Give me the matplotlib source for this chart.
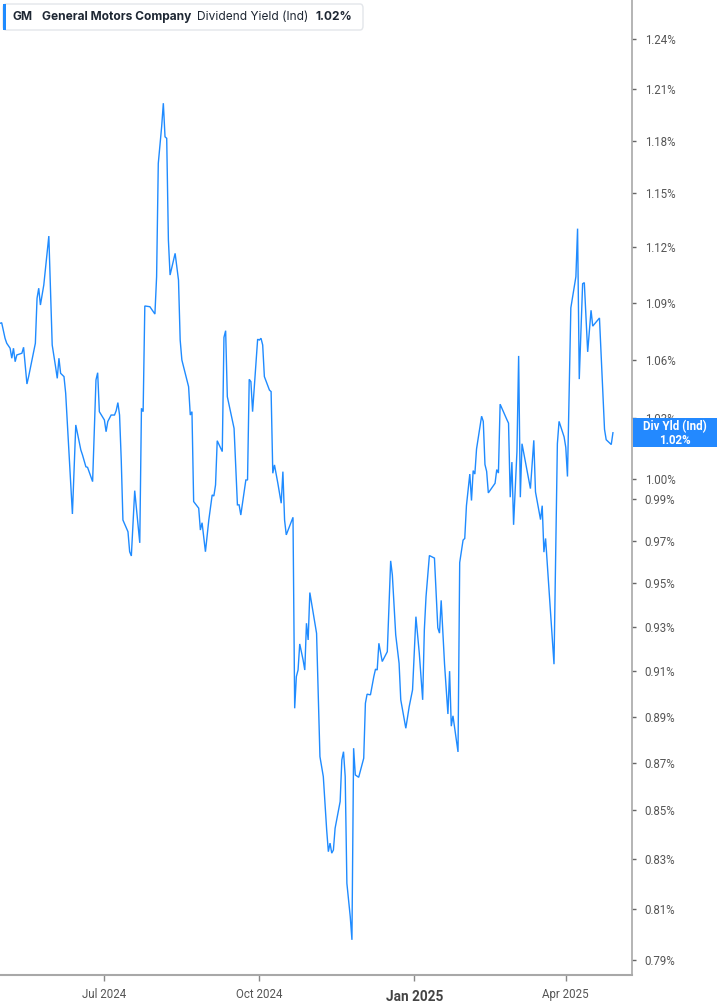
import matplotlib
matplotlib.use("Agg")
import matplotlib.pyplot as plt
import matplotlib.dates as mdates
from matplotlib.patches import Rectangle, FancyBboxPatch
import pandas as pd

# ---------------- data ----------------
dates = [
    "2024-04-30", "2024-05-01", "2024-05-03", "2024-05-04", "2024-05-06", "2024-05-07", "2024-05-08",
    "2024-05-09", "2024-05-10", "2024-05-13", "2024-05-14", "2024-05-16", "2024-05-17", "2024-05-21",
    "2024-05-22", "2024-05-23", "2024-05-24", "2024-05-26", "2024-05-29", "2024-05-31", "2024-06-02",
    "2024-06-03", "2024-06-04", "2024-06-05", "2024-06-07", "2024-06-08", "2024-06-10", "2024-06-12",
    "2024-06-14", "2024-06-17", "2024-06-18", "2024-06-20", "2024-06-21", "2024-06-24", "2024-06-26",
    "2024-06-27", "2024-06-28", "2024-07-01", "2024-07-02", "2024-07-03", "2024-07-05", "2024-07-07",
    "2024-07-08", "2024-07-09", "2024-07-10", "2024-07-11", "2024-07-12", "2024-07-15", "2024-07-16",
    "2024-07-17", "2024-07-19", "2024-07-22", "2024-07-23", "2024-07-24", "2024-07-25", "2024-07-28",
    "2024-07-31", "2024-08-01", "2024-08-02", "2024-08-04", "2024-08-05", "2024-08-06", "2024-08-07",
    "2024-08-08", "2024-08-09", "2024-08-12", "2024-08-14", "2024-08-15", "2024-08-16", "2024-08-19",
    "2024-08-20", "2024-08-21", "2024-08-22", "2024-08-23", "2024-08-26", "2024-08-27", "2024-08-28",
    "2024-08-30", "2024-09-01", "2024-09-03", "2024-09-04", "2024-09-05", "2024-09-06", "2024-09-09",
    "2024-09-10", "2024-09-11", "2024-09-12", "2024-09-16", "2024-09-18", "2024-09-19", "2024-09-20",
    "2024-09-23", "2024-09-24", "2024-09-25", "2024-09-26", "2024-09-27", "2024-09-30", "2024-10-01",
    "2024-10-02", "2024-10-03", "2024-10-04", "2024-10-07", "2024-10-08", "2024-10-09", "2024-10-10",
    "2024-10-12", "2024-10-14", "2024-10-15", "2024-10-16", "2024-10-17", "2024-10-21", "2024-10-22",
    "2024-10-23", "2024-10-24", "2024-10-25", "2024-10-27", "2024-10-28", "2024-10-29", "2024-10-30",
    "2024-10-31", "2024-11-02", "2024-11-04", "2024-11-06", "2024-11-08", "2024-11-10", "2024-11-11",
    "2024-11-12", "2024-11-13", "2024-11-14", "2024-11-15", "2024-11-18", "2024-11-19", "2024-11-20",
    "2024-11-21", "2024-11-22", "2024-11-24", "2024-11-25", "2024-11-26", "2024-11-27", "2024-11-29",
    "2024-12-02", "2024-12-03", "2024-12-04", "2024-12-06", "2024-12-08", "2024-12-09", "2024-12-10",
    "2024-12-11", "2024-12-13", "2024-12-16", "2024-12-18", "2024-12-19", "2024-12-21", "2024-12-23",
    "2024-12-24", "2024-12-27", "2024-12-29", "2024-12-31", "2025-01-02", "2025-01-04", "2025-01-06",
    "2025-01-07", "2025-01-08", "2025-01-10", "2025-01-13", "2025-01-15", "2025-01-16", "2025-01-17",
    "2025-01-19", "2025-01-21", "2025-01-22", "2025-01-23", "2025-01-24", "2025-01-27", "2025-01-28",
    "2025-01-30", "2025-01-31", "2025-02-01", "2025-02-03", "2025-02-04", "2025-02-05", "2025-02-06",
    "2025-02-07", "2025-02-10", "2025-02-11", "2025-02-12", "2025-02-13", "2025-02-14", "2025-02-18",
    "2025-02-19", "2025-02-20", "2025-02-21", "2025-02-25", "2025-02-26", "2025-02-27", "2025-02-28",
    "2025-03-01", "2025-03-03", "2025-03-04", "2025-03-05", "2025-03-06", "2025-03-11", "2025-03-13",
    "2025-03-14", "2025-03-17", "2025-03-18", "2025-03-19", "2025-03-20", "2025-03-25", "2025-03-27",
    "2025-03-28", "2025-03-31", "2025-04-01", "2025-04-02", "2025-04-04", "2025-04-07", "2025-04-08",
    "2025-04-09", "2025-04-11", "2025-04-12", "2025-04-14", "2025-04-16", "2025-04-17", "2025-04-21",
    "2025-04-24", "2025-04-25", "2025-04-28", "2025-04-29",
]

div_yield = [
    1.0790, 1.0793, 1.0711, 1.0685, 1.0659, 1.0607, 1.0659, 1.0589, 1.0624, 1.0633,
    1.0664, 1.0474, 1.0512, 1.0685, 1.0923, 1.0977, 1.0887, 1.0994, 1.1261, 1.0676,
    1.0563, 1.0503, 1.0607, 1.0529, 1.0512, 1.0427, 1.0125, 0.9828, 1.0266, 1.0141,
    1.0116, 1.0058, 1.0055, 0.9985, 1.0495, 1.0532, 1.0333, 1.0291, 1.0232, 1.0283,
    1.0316, 1.0316, 1.0338, 1.0379, 1.0316, 1.0092, 0.9799, 0.9743, 0.9648, 0.9628,
    0.9941, 0.9690, 1.0350, 1.0333, 1.0882, 1.0878, 1.0839, 1.1039, 1.1669, 1.1881,
    1.2018, 1.1822, 1.1813, 1.1239, 1.1048, 1.1166, 1.1021, 1.0702, 1.0598, 1.0495,
    1.0460, 1.0316, 1.0333, 0.9888, 0.9856, 0.9751, 0.9786, 0.9648, 0.9799, 0.9920,
    0.9915, 0.9969, 1.0187, 1.0133, 1.0716, 1.0751, 1.0409, 1.0249, 0.9872, 0.9872,
    0.9823, 0.9993, 0.9993, 1.0498, 1.0486, 1.0333, 1.0706, 1.0702, 1.0711, 1.0676,
    1.0512, 1.0443, 1.0435, 1.0026, 1.0067, 0.9977, 0.9880, 1.0034, 0.9799, 0.9728,
    0.9812, 0.8936, 0.9076, 0.9105, 0.9222, 0.9150, 0.9105, 0.9316, 0.9240, 0.9457,
    0.9362, 0.9270, 0.8727, 0.8642, 0.8419, 0.8330, 0.8365, 0.8324, 0.8337, 0.8426,
    0.8537, 0.8713, 0.8748, 0.8642, 0.8202, 0.8069, 0.7978, 0.8763, 0.8649, 0.8639,
    0.8720, 0.8958, 0.8998, 0.8995, 0.9076, 0.9109, 0.9105, 0.9225, 0.9143, 0.9187,
    0.9605, 0.9539, 0.9263, 0.9135, 0.8973, 0.8849, 0.8943, 0.9017, 0.9346, 0.9180,
    0.8973, 0.9286, 0.9438, 0.9630, 0.9618, 0.9295, 0.9271, 0.9421, 0.9131, 0.8911,
    0.9100, 0.8858, 0.8903, 0.8747, 0.9597, 0.9703, 0.9711, 0.9868, 1.0022, 0.9893,
    1.0039, 1.0022, 1.0146, 1.0310, 1.0284, 1.0069, 1.0035, 0.9930, 0.9977, 1.0044,
    1.0027, 1.0371, 1.0293, 1.0275, 0.9909, 1.0081, 0.9776, 1.0134, 1.0619, 0.9909,
    1.0172, 0.9951, 1.0189, 0.9935, 0.9801, 0.9868, 0.9646, 0.9711, 0.9131, 1.0172,
    1.0284, 1.0206, 1.0154, 1.0010, 1.0872, 1.1039, 1.1302, 1.0499, 1.1001, 1.1007,
    1.0640, 1.0859, 1.0775, 1.0818, 1.0244, 1.0192, 1.0168, 1.0227,
]

y_ticks = [1.24, 1.21, 1.18, 1.15, 1.12, 1.09, 1.06, 1.03, 1.00, 0.99,
           0.97, 0.95, 0.93, 0.91, 0.89, 0.87, 0.85, 0.83, 0.81, 0.79]
x_tick_dates = ["2024-07-01", "2024-10-01", "2025-01-01", "2025-04-01"]
x_tick_labels = ["Jul 2024", "Oct 2024", "Jan 2025", "Apr 2025"]

ticker = "GM"
company = "General Motors Company"
metric = "Dividend Yield (Ind)"
badge_title = "Div Yld (Ind)"

# ---------------- figure ----------------
W, H = 717, 1005
fig = plt.figure(figsize=(W / 100, H / 100), dpi=100)
fig.patch.set_facecolor("white")

ax = fig.add_axes([0, 30 / H, 632.3 / W, 975 / H])
ax.set_facecolor("white")

x = pd.to_datetime(dates)
line_color = "#1f8bff"
ax.plot(x, div_yield, color=line_color, lw=1.0, solid_joinstyle="miter")

ax.set_yscale("log")
ax.set_ylim(0.78418, 1.2641)
ax.set_xlim(pd.Timestamp("2024-04-30"), pd.Timestamp("2025-05-10 12:00"))

ax.yaxis.tick_right()
ax.set_yticks(y_ticks)
ax.set_yticklabels([f"{v:.2f}%" for v in y_ticks])
ax.yaxis.set_minor_locator(matplotlib.ticker.NullLocator())
ax.tick_params(axis="y", which="major", length=3, width=1, color="#666666",
               pad=6, labelsize=8.3, labelcolor="#555555")
for lab in ax.get_yticklabels():
    lab.set_fontfamily("Roboto")

xt = pd.to_datetime(x_tick_dates)
ax.set_xticks(xt)
ax.set_xticklabels(x_tick_labels)
ax.xaxis.set_minor_locator(matplotlib.ticker.NullLocator())
ax.tick_params(axis="x", which="major", length=4, width=1, color="#888888",
               pad=5, labelsize=8.3, labelcolor="#555555")
for lab in ax.get_xticklabels():
    lab.set_fontfamily("Roboto")
    if lab.get_text().startswith("Jan"):
        lab.set_fontweight("bold")
        lab.set_fontsize(9.8)
        lab.set_color("#444444")
        lab.set_y(-0.003)

for s in ("top", "left"):
    ax.spines[s].set_visible(False)
ax.spines["bottom"].set_color("#a8a8a8")
ax.spines["bottom"].set_linewidth(1.5)
ax.spines["right"].set_color("#a8a8a8")
ax.spines["right"].set_linewidth(1.2)

# ---------------- last value badge ----------------
fig.canvas.draw()
last_val = div_yield[-1]
y_px = ax.transData.transform((mdates.date2num(x[-1]), last_val))[1]
bh = 29.4
badge = Rectangle((632.7 / W, (y_px - bh / 2) / H), (W - 632.7) / W, bh / H,
                  transform=fig.transFigure, facecolor="#2389ff", edgecolor="none",
                  zorder=10)
fig.add_artist(badge)
cx = (632.7 + W) / 2 / W
fig.text(cx, (y_px + 6.5) / H, badge_title, color="white", fontsize=8.3,
         fontweight="bold", family="Roboto", ha="center", va="center", zorder=11)
fig.text(cx, (y_px - 7.5) / H, f"{last_val:.2f}%", color="white", fontsize=8.3,
         fontweight="bold", family="Roboto", ha="center", va="center", zorder=11)

# ---------------- header ----------------
hx0, hx1, hy0, hy1 = 3, 363, 4, 30
hdr = FancyBboxPatch((hx0 / W, 1 - hy1 / H), (hx1 - hx0) / W, (hy1 - hy0) / H,
                     boxstyle="round,pad=0,rounding_size=0.004",
                     transform=fig.transFigure, facecolor="white",
                     edgecolor="#e3e6ea", linewidth=1.0, zorder=10)
fig.add_artist(hdr)
bar = Rectangle((hx0 / W, 1 - hy1 / H), 3 / W, (hy1 - hy0) / H,
                transform=fig.transFigure, facecolor="#1f8bff", edgecolor="none",
                zorder=11)
fig.add_artist(bar)
ty = 1 - 17 / H
tc = "#1e2733"
fig.text(13 / W, ty, ticker, fontsize=8.6, fontweight="bold", family="Inter",
         color=tc, va="center", ha="left", zorder=12)
fig.text(42 / W, ty, company, fontsize=8.6, fontweight="bold", family="Inter",
         color=tc, va="center", ha="left", zorder=12)
fig.text(197 / W, ty, metric, fontsize=8.6, family="Inter",
         color=tc, va="center", ha="left", zorder=12)
fig.text(315 / W, ty, f"{last_val:.2f}%", fontsize=8.6, fontweight="bold", family="Inter",
         color=tc, va="center", ha="left", zorder=12)

fig.savefig("out.png", dpi=100, facecolor="white")
